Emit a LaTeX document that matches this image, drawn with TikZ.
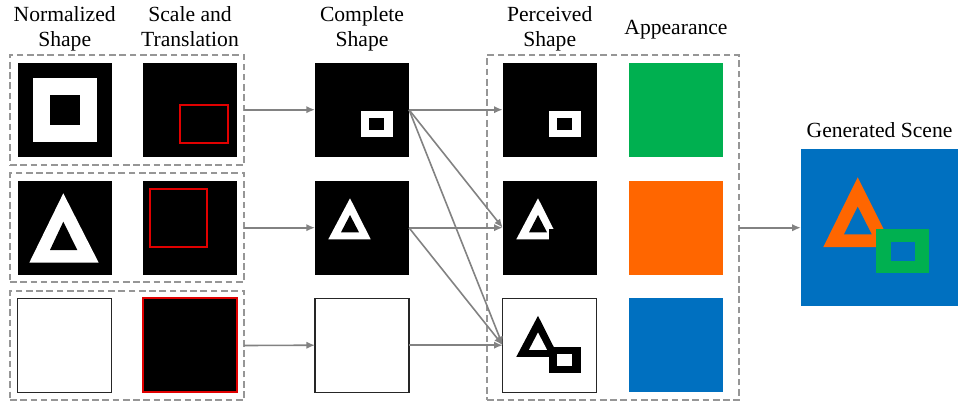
\documentclass[tikz,border=0pt]{standalone}
\usepackage{fontspec}
\setmainfont{Liberation Serif}
\usetikzlibrary{arrows.meta}
\definecolor{appgreen}{RGB}{0,176,80}
\definecolor{apporange}{RGB}{255,102,0}
\definecolor{appblue}{RGB}{0,112,192}
\definecolor{boxred}{RGB}{225,0,0}
\definecolor{linegray}{RGB}{130,130,130}
\definecolor{dashgray}{RGB}{150,150,150}
\begin{document}
\begin{tikzpicture}[x=0.75pt,y=-0.75pt,
  img/.style={minimum size=70.5pt, inner sep=0pt, outer sep=0pt},
  imgblack/.style={img, fill=black},
  imgwhite/.style={img, fill=white, draw=black!85, line width=0.8pt},
  dbox/.style={draw=dashgray, line width=1.2pt, dash pattern=on 5pt off 2.7pt, inner sep=0pt, outer sep=0pt},
  arr/.style={draw=linegray, line width=1.2pt, -{Latex[length=6.5pt,width=5.5pt]}},
  redline/.style={draw=boxred, line width=1.5pt},
  title/.style={align=center, inner sep=0pt, font=\fontsize{16.2}{18.75}\selectfont}]
\useasboundingbox (0,0) rectangle (962,404);

% dashed group boxes
\node[dbox, minimum width=175.5pt, minimum height=82.5pt] (d1) at (127,109.7) {};
\node[dbox, minimum width=175.5pt, minimum height=81.75pt] (d2) at (127,227.7) {};
\node[dbox, minimum width=175.5pt, minimum height=81.75pt] (d3) at (127,345.5) {};
\node[dbox, minimum width=189pt, minimum height=258.75pt] (rb) at (613,227.7) {};

% column 1: normalized shape
\node[imgblack] (n1) at (64.7,109.7) {};
\node[imgblack] (n2) at (64.7,227.7) {};
\node[imgwhite] (n3) at (64.7,345.2) {};
\fill[white] (33,78) rectangle (97,142);
\fill[black] (50,95) rectangle (79.5,124.5);
\fill[white] (63.3,193.3) -- (29.3,262.7) -- (98.7,262.7) -- cycle;
\fill[black] (63.3,221.7) -- (50,250) -- (77.3,250) -- cycle;

% column 2: scale and translation
\node[imgblack] (s1) at (190,109.7) {};
\node[imgblack] (s2) at (190,227.7) {};
\node[imgblack, draw=boxred, line width=1.5pt] (s3) at (190,345.2) {};
\draw[redline] (180,105) rectangle (228,143.3);
\draw[redline] (150,189.3) rectangle (206.7,246.7);

% column 3: complete shape
\node[imgblack] (c1) at (362,109.7) {};
\node[imgblack] (c2) at (362,227.7) {};
\node[imgwhite] (c3) at (362,345.2) {};
\fill[white] (360.7,111) rectangle (393.3,137.3);
\fill[black] (369,118.3) rectangle (384.3,130.3);
\fill[white] (350,198.3) -- (328.3,239.3) -- (370.7,239.3) -- cycle;
\fill[black] (350,215) -- (341,232.3) -- (359,232.3) -- cycle;

% column 4: perceived shape
\node[imgblack] (p1) at (549.7,109.7) {};
\node[imgblack] (p2) at (549.7,227.7) {};
\node[imgwhite] (p3) at (549.7,345.2) {};
\fill[white] (548.7,111) rectangle (581.3,137.3);
\fill[black] (557,118.3) rectangle (572.3,130.3);
\fill[white] (538,198.3) -- (516.3,239.3) -- (558.7,239.3) -- cycle;
\fill[black] (538,215) -- (529,232.3) -- (547,232.3) -- cycle;
\fill[black] (548.7,229) rectangle (581.3,255.3);
\fill[black] (538,315.8) -- (516.3,356.8) -- (558.7,356.8) -- cycle;
\fill[white] (538,332.5) -- (529,349.8) -- (547,349.8) -- cycle;
\fill[black] (548.7,346.5) rectangle (581.3,372.8);
\fill[white] (557,353.8) rectangle (572.3,365.8);

% column 5: appearance
\node[img, fill=appgreen] (a1) at (676,109.7) {};
\node[img, fill=apporange] (a2) at (676,227.7) {};
\node[img, fill=appblue] (a3) at (676,345.2) {};

% generated scene
\node[img, minimum size=118pt, fill=appblue] (sc) at (879.5,227.7) {};
\fill[apporange] (857.7,177.3) -- (823.3,247) -- (892.5,247) -- cycle;
\fill[appblue] (857.7,206.7) -- (844,234.3) -- (871.7,234.3) -- cycle;
\fill[appgreen] (876,229.3) rectangle (929,272.7);
\fill[appblue] (891,241.7) rectangle (915,260.7);

% titles
\node[title, anchor=north] (t1) at (64.7,6.5) {Normalized\\Shape};
\node[title, anchor=north] (t2) at (190,6.5) {Scale and\\Translation};
\node[title, anchor=north] (t3) at (362,6.5) {Complete\\Shape};
\node[title, anchor=north] (t4) at (549.7,6.5) {Perceived\\Shape};
\node[title, anchor=base] (t5) at (676,34.5) {Appearance};
\node[title, anchor=base] (t6) at (879.5,137.3) {Generated Scene};

% connectors
\draw[arr] (d1.east) -- (c1.west);
\draw[arr] (d2.east) -- (c2.west);
\draw[arr] (d3.east) -- (c3.west);
\draw[arr] (c1.east) -- (p1.west);
\draw[arr] (c1.east) -- (p2.west);
\draw[arr] (c1.east) -- (p3.west);
\draw[arr] (c2.east) -- (p2.west);
\draw[arr] (c2.east) -- (p3.west);
\draw[arr] (c3.east) -- (p3.west);
\draw[arr] (rb.east) -- (sc.west);
\end{tikzpicture}
\end{document}
